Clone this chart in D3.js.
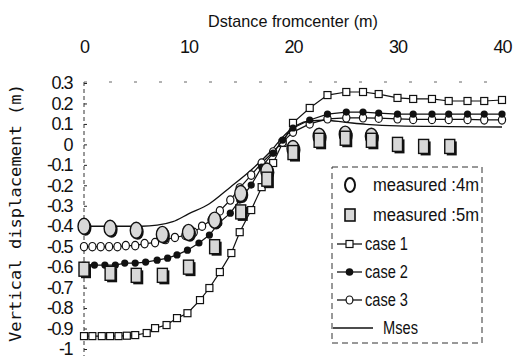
<!DOCTYPE html>
<html lang="en">
<head>
<meta charset="utf-8">
<script src="https://d3js.org/d3.v7.min.js"></script>
<style>
  body { margin: 0; background: #fff; }
  text { font-family: "Liberation Sans", Arial, sans-serif; fill: #111; }
  .tick line { stroke: #222; }
</style>
</head>
<body>
<svg id="chart" width="513" height="358"></svg>
<script>
// values (distance in m, displacement in m)
const case1X = [0,0.8,1.7,2.5,3.3,4.1,4.9,6.0,6.8,7.9,8.9,9.9,11.1,12.0,13.0,14.1,14.9,16.0,17.0,18.1,19.0,20.0,21.6,23.3,25.1,26.7,28.2,30.0,31.5,33.3,34.9,36.7,38.3,40];
const case1Y = [-0.937,-0.937,-0.937,-0.937,-0.937,-0.935,-0.932,-0.922,-0.898,-0.883,-0.849,-0.825,-0.761,-0.702,-0.624,-0.531,-0.429,-0.321,-0.209,-0.091,0.007,0.105,0.178,0.241,0.256,0.256,0.246,0.227,0.222,0.222,0.212,0.212,0.212,0.217];

const case2X = [0,1,2,3,3.9,4.9,5.9,7.0,8.0,8.9,9.9,11.0,12.0,12.9,14.0,14.9,16.0,17.0,18.1,19.0,20.0,21.6,23.3,25.1,26.7,28.2,30.0,31.5,33.3,34.9,36.7,38.3,40];
const case2Y = [-0.59,-0.59,-0.59,-0.59,-0.58,-0.58,-0.575,-0.566,-0.556,-0.54,-0.517,-0.482,-0.443,-0.385,-0.336,-0.272,-0.199,-0.111,-0.042,0.021,0.08,0.119,0.148,0.158,0.158,0.153,0.148,0.148,0.148,0.148,0.148,0.148,0.148];

const case3X = [0,0.8,1.6,2.4,3.2,4.0,4.9,5.8,6.8,7.8,8.7,9.7,10.5,11.3,12.2,13.0,14.0,14.9,16.0,17.0,18.1,19.0,20.0,21.6,23.3,25.1,26.7,28.2,30.0,31.5,33.3,34.9,36.7,38.3,40];
const case3Y = [-0.50,-0.50,-0.50,-0.50,-0.50,-0.495,-0.495,-0.485,-0.48,-0.465,-0.455,-0.445,-0.43,-0.40,-0.37,-0.325,-0.272,-0.213,-0.15,-0.091,-0.037,0.011,0.06,0.10,0.125,0.13,0.13,0.128,0.125,0.122,0.122,0.122,0.122,0.12,0.12];

const msesX = [0,5.5,7,8.5,10,12,14,16,17.8,19.4,20.4,21.6,23,25,27,30,35,40];
const msesY = [-0.40,-0.40,-0.395,-0.378,-0.34,-0.29,-0.209,-0.125,-0.037,0.056,0.095,0.115,0.118,0.108,0.098,0.09,0.087,0.085];

const meas4X = [0,2.5,5,7.5,10,12.5,15,17.5,20,22.5,25,27.5];
const meas4Y = [-0.40,-0.41,-0.42,-0.44,-0.43,-0.37,-0.24,-0.13,-0.02,0.04,0.05,0.04];

const meas5X = [0,2.5,5,7.5,10,12.5,15,17.5,20,22.5,25,27.5,30,32.5,35];
const meas5Y = [-0.61,-0.63,-0.64,-0.64,-0.60,-0.50,-0.33,-0.17,-0.04,0.02,0.03,0.02,0.0,-0.01,-0.01];

const xTicks = [0,10,20,30,40];
const yTicks = [0.3,0.2,0.1,0,-0.1,-0.2,-0.3,-0.4,-0.5,-0.6,-0.7,-0.8,-0.9,-1];
const legendLabels = ["measured :4m","measured :5m","case 1","case 2","case 3","Mses"];

const svg = d3.select("svg#chart");
const x = d3.scaleLinear().domain([0, 40]).range([84, 502]);
const y = d3.scaleLinear().domain([-1, 0.3]).range([349, 83]);
const zip = (xs, ys) => xs.map((v, i) => [v, ys[i]]);

// titles
svg.append("text").attr("x", 293).attr("y", 27).attr("text-anchor", "middle")
  .attr("font-size", 17).attr("textLength", 170).attr("lengthAdjust", "spacingAndGlyphs")
  .text("Dstance fromcenter (m)");

svg.append("text")
  .attr("transform", "translate(21,213) rotate(-90)")
  .attr("text-anchor", "middle")
  .style("font-family", "'DejaVu Sans Mono', monospace")
  .attr("font-size", 16).attr("textLength", 258).attr("lengthAdjust", "spacingAndGlyphs")
  .text("Vertical displacement (m)");

// top axis labels
const xAxis = svg.append("g").attr("transform", "translate(0,82)")
  .call(d3.axisTop(x).tickValues(xTicks).tickSize(0).tickPadding(29).tickFormat(d => String(d)));
xAxis.select(".domain").remove();
xAxis.selectAll("text").attr("font-size", 18).style("letter-spacing", "-1px");

// left axis
const yFmt = d => d === 0 ? "0" : d === -1 ? "-1" : d.toFixed(1);
const yAxis = svg.append("g").attr("transform", "translate(84,0)")
  .call(d3.axisLeft(y).tickValues(yTicks).tickSize(-3).tickPadding(12).tickFormat(yFmt));
yAxis.select(".domain").remove();
yAxis.selectAll("text").attr("font-size", 18).style("letter-spacing", "-1.5px");

// dashed frame pieces (scanned look)
svg.append("line").attr("x1", 84).attr("x2", 84).attr("y1", 82).attr("y2", 356)
  .attr("stroke", "#333").attr("stroke-dasharray", "4,3");
svg.append("line").attr("x1", 84).attr("x2", 505).attr("y1", 82).attr("y2", 82)
  .attr("stroke", "#666").attr("stroke-dasharray", "3,22");

const line = d3.line().x(d => x(d[0])).y(d => y(d[1]));
const smooth = d3.line().x(d => x(d[0])).y(d => y(d[1])).curve(d3.curveMonotoneX);

// Mses
svg.append("path").datum(zip(msesX, msesY)).attr("d", smooth)
  .attr("fill", "none").attr("stroke", "#111").attr("stroke-width", 1.3);

// case 1
svg.append("path").datum(zip(case1X, case1Y)).attr("d", line)
  .attr("fill", "none").attr("stroke", "#111").attr("stroke-width", 1.2);
svg.selectAll("rect.c1").data(zip(case1X, case1Y)).join("rect").attr("class", "c1")
  .attr("x", d => x(d[0]) - 3.5).attr("y", d => y(d[1]) - 3.5)
  .attr("width", 7).attr("height", 7)
  .attr("fill", "#fff").attr("stroke", "#111").attr("stroke-width", 1.2);

// case 3
svg.append("path").datum(zip(case3X, case3Y)).attr("d", line)
  .attr("fill", "none").attr("stroke", "#111").attr("stroke-width", 1.2);
svg.selectAll("ellipse.c3").data(zip(case3X, case3Y)).join("ellipse").attr("class", "c3")
  .attr("cx", d => x(d[0])).attr("cy", d => y(d[1]))
  .attr("rx", 3.6).attr("ry", 4.2)
  .attr("fill", "#fff").attr("stroke", "#111").attr("stroke-width", 1.2);

// case 2
svg.append("path").datum(zip(case2X, case2Y)).attr("d", line)
  .attr("fill", "none").attr("stroke", "#111").attr("stroke-width", 1.2);
svg.selectAll("circle.c2").data(zip(case2X, case2Y)).join("circle").attr("class", "c2")
  .attr("cx", d => x(d[0])).attr("cy", d => y(d[1])).attr("r", 3.6)
  .attr("fill", "#111");

// measured 4 m (shaded ellipses with shadow)
const m4 = zip(meas4X, meas4Y);
svg.selectAll("ellipse.m4s").data(m4).join("ellipse").attr("class", "m4s")
  .attr("cx", d => x(d[0]) + 1.5).attr("cy", d => y(d[1]) + 1.5).attr("rx", 6).attr("ry", 8)
  .attr("fill", "#111");
svg.selectAll("ellipse.m4").data(m4).join("ellipse").attr("class", "m4")
  .attr("cx", d => x(d[0])).attr("cy", d => y(d[1])).attr("rx", 6).attr("ry", 8)
  .attr("fill", "#d8d8d8").attr("stroke", "#111").attr("stroke-width", 1.4);

// measured 5 m (shaded squares with shadow)
const m5 = zip(meas5X, meas5Y);
svg.selectAll("rect.m5s").data(m5).join("rect").attr("class", "m5s")
  .attr("x", d => x(d[0]) - 5 + 2).attr("y", d => y(d[1]) - 7 + 2)
  .attr("width", 10).attr("height", 14).attr("fill", "#111");
svg.selectAll("rect.m5").data(m5).join("rect").attr("class", "m5")
  .attr("x", d => x(d[0]) - 5).attr("y", d => y(d[1]) - 7)
  .attr("width", 10).attr("height", 14)
  .attr("fill", "#d8d8d8").attr("stroke", "#111").attr("stroke-width", 1.4);

// legend
const lg = svg.append("g");
lg.append("rect").attr("x", 332).attr("y", 167).attr("width", 150).attr("height", 176)
  .attr("fill", "#fff").attr("stroke", "#333").attr("stroke-dasharray", "6,4");

const legY = [185, 215, 244, 272, 300, 328];
const legX = [373, 373, 365, 365, 365, 383];
const legW = [106, 106, 43, 43, 43, 35];
legendLabels.forEach((t, i) => {
  lg.append("text").attr("x", legX[i]).attr("y", legY[i] + 6)
    .attr("font-size", 18).attr("textLength", legW[i]).attr("lengthAdjust", "spacingAndGlyphs")
    .text(t);
});
lg.append("ellipse").attr("cx", 350).attr("cy", legY[0]).attr("rx", 5).attr("ry", 7)
  .attr("fill", "#fff").attr("stroke", "#111").attr("stroke-width", 2);
lg.append("rect").attr("x", 345).attr("y", legY[1] - 6).attr("width", 10).attr("height", 12)
  .attr("fill", "#d8d8d8").attr("stroke", "#111").attr("stroke-width", 1.6);
[2, 3, 4].forEach(i => {
  lg.append("line").attr("x1", 337).attr("x2", 362).attr("y1", legY[i]).attr("y2", legY[i])
    .attr("stroke", "#111").attr("stroke-width", 1.3);
});
lg.append("rect").attr("x", 346).attr("y", legY[2] - 3.5).attr("width", 7).attr("height", 7)
  .attr("fill", "#fff").attr("stroke", "#111").attr("stroke-width", 1.2);
lg.append("circle").attr("cx", 349.5).attr("cy", legY[3]).attr("r", 3.8).attr("fill", "#111");
lg.append("ellipse").attr("cx", 349.5).attr("cy", legY[4]).attr("rx", 3.4).attr("ry", 4)
  .attr("fill", "#fff").attr("stroke", "#111").attr("stroke-width", 1.2);
lg.append("line").attr("x1", 333).attr("x2", 373).attr("y1", legY[5]).attr("y2", legY[5])
  .attr("stroke", "#111").attr("stroke-width", 1.3);
</script>
</body>
</html>
